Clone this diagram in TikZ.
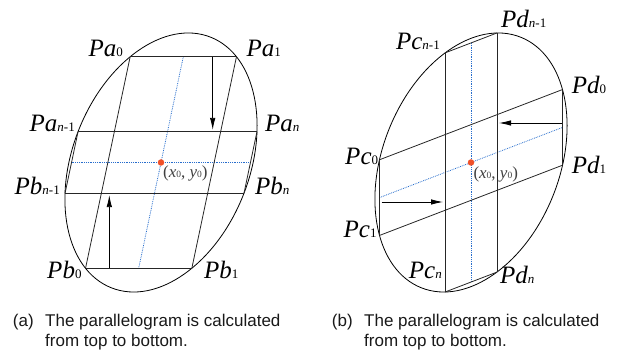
\documentclass[tikz,border=0pt]{standalone}
\usepackage{fontspec}
\setmainfont{Liberation Serif}
\newfontfamily\labfont{Liberation Serif}
\newfontfamily\capfont{Liberation Sans}
\usetikzlibrary{arrows.meta}
\definecolor{dotblue}{RGB}{40,110,205}
\definecolor{dotred}{RGB}{240,80,40}
\newcommand\lsub[1]{{\fontsize{13}{13}\selectfont\upshape #1}}
\newcommand\csub[1]{{\fontsize{9.5}{9.5}\selectfont\upshape #1}}
\begin{document}
\begin{tikzpicture}[x=1pt,y=1pt,
  rim/.style={line width=0.8pt, black},
  edge/.style={line width=0.8pt, black!85},
  midline/.style={line width=0.8pt, dotblue, dash pattern=on 0.8pt off 1pt},
  flow/.style={line width=0.8pt, black, -{Latex[length=12pt,width=5.5pt]}},
  centre/.style={circle, fill=dotred, inner sep=0pt, minimum size=6.5pt},
  lab/.style={font=\labfont\fontsize{25}{25}\selectfont\itshape, inner sep=0pt, text=black},
  clab/.style={font=\labfont\fontsize{17}{17}\selectfont, inner sep=0pt, text=black!75},
  capt/.style={font=\capfont\fontsize{17}{17}\selectfont, inner sep=0pt, text=black!90, anchor=base west}]
\path[use as bounding box] (0,0) rectangle (618,350);

% ---------- (a) ----------
\begin{scope}[shift={(161,187.5)}]
  \draw[rim, rotate=-21.6] (0,0) ellipse [x radius=88.5pt, y radius=134.8pt];
  \coordinate (Pa0) at (-30.83,105.8);
  \coordinate (Pa1) at (75.47,105.8);
  \coordinate (Pan1) at (-82.96,30.8);
  \coordinate (Pan) at (95.96,30.8);
  \coordinate (Pbn1) at (-95.96,-30.8);
  \coordinate (Pbn) at (82.96,-30.8);
  \coordinate (Pb0) at (-75.47,-105.8);
  \coordinate (Pb1) at (30.83,-105.8);
  \coordinate (mA1) at (22.32,105.8);
  \coordinate (mA2) at (-22.32,-105.8);
  \coordinate (mA3) at (-89.46,0);
  \coordinate (mA4) at (89.46,0);
  \coordinate (arA1) at (51.7,105.8);
  \coordinate (arA2) at (51.7,32.6);
  \coordinate (arA3) at (-51.7,-105.8);
  \coordinate (arA4) at (-51.7,-32.6);
  \draw[midline] (mA1) -- (mA2);
  \draw[midline] (mA3) -- (mA4);
  \draw[edge] (Pa0) -- (Pa1);
  \draw[edge] (Pan1) -- (Pan);
  \draw[edge] (Pbn1) -- (Pbn);
  \draw[edge] (Pb0) -- (Pb1);
  \draw[edge] (Pa0) -- (Pb0);
  \draw[edge] (Pa1) -- (Pb1);
  \draw[edge] (Pan1) -- (Pbn1);
  \draw[edge] (Pan) -- (Pbn);
  \draw[flow] (arA1) -- (arA2);
  \draw[flow] (arA3) -- (arA4);
  \node[centre] (cA) at (0,0) {};
\end{scope}
\node[lab, anchor=base east] (lPa0) at (123,293.5) {Pa\lsub{0}};
\node[lab, anchor=base west] (lPa1) at (246.5,293.5) {Pa\lsub{1}};
\node[lab, anchor=base east] (lPan1) at (75,218.3) {Pa\lsub{{\itshape n}-1}};
\node[lab, anchor=base west] (lPan) at (265,218.3) {Pa\lsub{\itshape n}};
\node[lab, anchor=base east] (lPbn1) at (60,155.3) {Pb\lsub{{\itshape n}-1}};
\node[lab, anchor=base west] (lPbn) at (255,155.3) {Pb\lsub{\itshape n}};
\node[lab, anchor=base east] (lPb0) at (81.7,71.5) {Pb\lsub{0}};
\node[lab, anchor=base west] (lPb1) at (204,71.5) {Pb\lsub{1}};
\node[clab, anchor=base west] (lcA) at (163,172) {(\textit{x}\csub{0}, \textit{y}\csub{0})};

% ---------- (b) ----------
\begin{scope}[shift={(471,187.5)}]
  \draw[rim, rotate=-21.6] (0,0) ellipse [x radius=88.5pt, y radius=134.8pt];
  \coordinate (Pcn1) at (-26,109.58);
  \coordinate (Pdn1) at (26,129.54);
  \coordinate (Pcn) at (-26,-129.54);
  \coordinate (Pdn) at (26,-109.58);
  \coordinate (Pd0) at (91.5,72.95);
  \coordinate (Pd1) at (91.5,-2.73);
  \coordinate (Pc0) at (-91.5,2.73);
  \coordinate (Pc1) at (-91.5,-72.95);
  \coordinate (mB1) at (0,119.56);
  \coordinate (mB2) at (0,-119.56);
  \coordinate (mB3) at (-91.5,-35.11);
  \coordinate (mB4) at (91.5,35.11);
  \coordinate (arB1) at (90.5,39.5);
  \coordinate (arB2) at (28,39.5);
  \coordinate (arB3) at (-89.5,-39.5);
  \coordinate (arB4) at (-28,-39.5);
  \draw[midline] (mB1) -- (mB2);
  \draw[midline] (mB3) -- (mB4);
  \draw[edge] (Pcn1) -- (Pcn);
  \draw[edge] (Pdn1) -- (Pdn);
  \draw[edge] (Pc0) -- (Pd0);
  \draw[edge] (Pc1) -- (Pd1);
  \draw[edge] (Pcn1) -- (Pdn1);
  \draw[edge] (Pcn) -- (Pdn);
  \draw[edge] (Pc0) -- (Pc1);
  \draw[edge] (Pd0) -- (Pd1);
  \draw[flow] (arB1) -- (arB2);
  \draw[flow] (arB3) -- (arB4);
  \node[centre] (cB) at (0,0) {};
\end{scope}
\node[lab, anchor=base west] (lPdn1) at (501,322.5) {Pd\lsub{{\itshape n}-1}};
\node[lab, anchor=base east] (lPcn1) at (440,300.3) {Pc\lsub{{\itshape n}-1}};
\node[lab, anchor=base west] (lPd0) at (571.7,256) {Pd\lsub{0}};
\node[lab, anchor=base east] (lPc0) at (378.3,185) {Pc\lsub{0}};
\node[lab, anchor=base west] (lPd1) at (571.7,176.7) {Pd\lsub{1}};
\node[lab, anchor=base east] (lPc1) at (376.7,112) {Pc\lsub{1}};
\node[lab, anchor=base east] (lPcn) at (442,71.3) {Pc\lsub{\itshape n}};
\node[lab, anchor=base west] (lPdn) at (500,66.7) {Pd\lsub{\itshape n}};
\node[clab, anchor=base west] (lcB) at (473.3,171.7) {(\textit{x}\csub{0}, \textit{y}\csub{0})};

% ---------- captions ----------
\node[capt] (capAtag) at (12.7,23) {(a)};
\node[capt] (capA1) at (45,23) {The parallelogram is calculated};
\node[capt] (capA2) at (45,3.5) {from top to bottom.};
\node[capt] (capBtag) at (331.7,23) {(b)};
\node[capt] (capB1) at (364,23) {The parallelogram is calculated};
\node[capt] (capB2) at (364,3.5) {from top to bottom.};
\end{tikzpicture}
\end{document}
